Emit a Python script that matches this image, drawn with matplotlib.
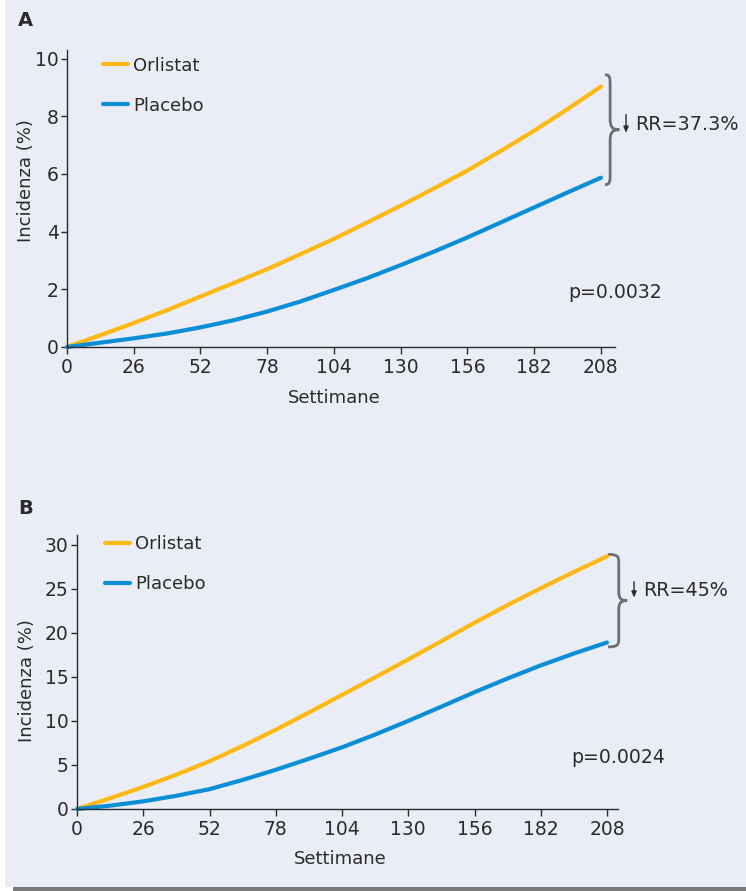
import matplotlib
matplotlib.use("Agg")
import matplotlib.pyplot as plt
from matplotlib.path import Path
from matplotlib.patches import PathPatch, Rectangle

plt.rcParams['font.family'] = ['DejaVu Sans']

weeks = [0, 13, 26, 39, 52, 65, 78, 91, 104, 117, 130, 143, 156, 169, 182, 195, 208]
xticks = [0, 26, 52, 78, 104, 130, 156, 182, 208]

orlistat_a = [0, 0.41, 0.83, 1.28, 1.75, 2.22, 2.7, 3.22, 3.75, 4.32, 4.9, 5.5, 6.12, 6.8, 7.5, 8.25, 9.03]
placebo_a = [0, 0.15, 0.3, 0.47, 0.68, 0.93, 1.23, 1.58, 1.98, 2.39, 2.84, 3.31, 3.8, 4.32, 4.84, 5.36, 5.87]
orlistat_b = [0, 1.22, 2.5, 3.9, 5.42, 7.15, 9.0, 10.95, 12.95, 14.95, 16.98, 19.05, 21.14, 23.15, 25.06, 26.9, 28.68]
placebo_b = [0, 0.38, 0.87, 1.5, 2.25, 3.3, 4.45, 5.7, 7.0, 8.45, 10.0, 11.62, 13.26, 14.82, 16.3, 17.65, 18.9]

ORANGE = "#fdb913"
BLUE = "#0a8ed6"
BG = "#eaedf5"
DARK = "#2b2b2b"

fig = plt.figure(figsize=(7.46, 8.91), dpi=100)
fig.patch.set_facecolor("white")
fig.add_artist(Rectangle((5 / 746, 4 / 891), 1, 1, transform=fig.transFigure,
                         facecolor=BG, edgecolor="none", zorder=-10))
fig.add_artist(Rectangle((13 / 746, 0), 1, 4 / 891, transform=fig.transFigure,
                         facecolor="#7a7a7a", edgecolor="none", zorder=-9))


def brace(ax, x0, x1, x2, ytop, ybot):
    ym = (ytop + ybot) / 2
    c = (ytop - ybot) * 0.1
    verts = [(x0, ytop),
             (x1, ytop), (x1, ytop - c * 0.3), (x1, ytop - c),
             (x1, ym + c),
             (x1, ym + c * 0.2), (x1 + (x2 - x1) * 0.3, ym), (x2, ym),
             (x1 + (x2 - x1) * 0.3, ym), (x1, ym - c * 0.2), (x1, ym - c),
             (x1, ybot + c),
             (x1, ybot + c * 0.3), (x1, ybot), (x0, ybot)]
    codes = [Path.MOVETO,
             Path.CURVE4, Path.CURVE4, Path.CURVE4,
             Path.LINETO,
             Path.CURVE4, Path.CURVE4, Path.CURVE4,
             Path.CURVE4, Path.CURVE4, Path.CURVE4,
             Path.LINETO,
             Path.CURVE4, Path.CURVE4, Path.CURVE4]
    ax.add_patch(PathPatch(Path(verts, codes), facecolor="none", edgecolor="#6f6f6f",
                           lw=2.0, clip_on=False))


def panel(rect, orl, pla, lims, yticks, label_xy, xlab_xy,
          brace_args, arrow, rr_text, rr_xy, p_text, p_xy, legend_anchor):
    ax = fig.add_axes(rect)
    ax.set_facecolor("none")
    ax.plot(weeks, orl, color=ORANGE, lw=3.0, solid_capstyle="round", label="Orlistat", clip_on=False)
    ax.plot(weeks, pla, color=BLUE, lw=3.0, solid_capstyle="round", label="Placebo", clip_on=False)
    ax.set_xlim(0, lims[0])
    ax.set_ylim(0, lims[1])
    ax.set_xticks(xticks)
    ax.set_yticks(yticks)
    for s in ["top", "right"]:
        ax.spines[s].set_visible(False)
    for s in ["left", "bottom"]:
        ax.spines[s].set_color(DARK)
        ax.spines[s].set_linewidth(1.0)
    ax.tick_params(axis="y", length=4, width=1, pad=2, labelsize=13.5, colors=DARK)
    ax.tick_params(axis="x", length=5, width=1, pad=3, labelsize=13.5, colors=DARK)
    ax.set_ylabel("Incidenza (%)", fontsize=13, color=DARK)
    ax.yaxis.set_label_coords(*label_xy)
    ax.set_xlabel("Settimane", fontsize=13, color=DARK, va="top")
    ax.xaxis.set_label_coords(*xlab_xy)
    leg = ax.legend(loc="upper left", bbox_to_anchor=legend_anchor, frameon=False,
                    fontsize=13, handlelength=1.4, handletextpad=0.25,
                    labelspacing=1.22, borderpad=0, borderaxespad=0)
    for t in leg.get_texts():
        t.set_color(DARK)
    brace(ax, *brace_args)
    ax.annotate("", xy=(arrow[0], arrow[2]), xytext=(arrow[0], arrow[1]),
                arrowprops=dict(arrowstyle="-|>,head_length=0.35,head_width=0.15",
                                color=DARK, lw=1.0, shrinkA=0, shrinkB=0),
                annotation_clip=False)
    ax.text(rr_xy[0], rr_xy[1], rr_text, fontsize=13.8, color=DARK, va="center", ha="left")
    ax.text(p_xy[0], p_xy[1], p_text, fontsize=13.6, color=DARK, va="center", ha="left")
    return ax


# panel A
panel([67 / 746, (891 - 347) / 891, 548 / 746, 297 / 891],
      orlistat_a, placebo_a, (213.5, 10.3), [0, 2, 4, 6, 8, 10],
      (-0.058, 0.56), (0.487, -0.14),
      (209.6, 211.6, 215.2, 9.44, 5.63), (217.8, 8.06, 7.43),
      "RR=37.3%", (221.3, 7.71), "p=0.0032", (195.4, 1.875), (0.066, 0.978))

# panel B
panel([77 / 746, (891 - 809) / 891, 541 / 746, 274 / 891],
      orlistat_b, placebo_b, (212.3, 31.1), [0, 5, 10, 15, 20, 25, 30],
      (-0.076, 0.47), (0.486, -0.15),
      (208.4, 212.6, 215.9, 28.9, 18.4), (218.6, 25.8, 24.0),
      "RR=45%", (222.1, 24.8), "p=0.0024", (194.1, 5.9), (0.052, 1.0))

fig.text(18 / 746, 1 - 21 / 891, "A", fontsize=14, fontweight="bold", color=DARK, va="center")
fig.text(18 / 746, 1 - 508 / 891, "B", fontsize=14, fontweight="bold", color=DARK, va="center")

fig.savefig("out.png", dpi=100, facecolor=fig.get_facecolor())
